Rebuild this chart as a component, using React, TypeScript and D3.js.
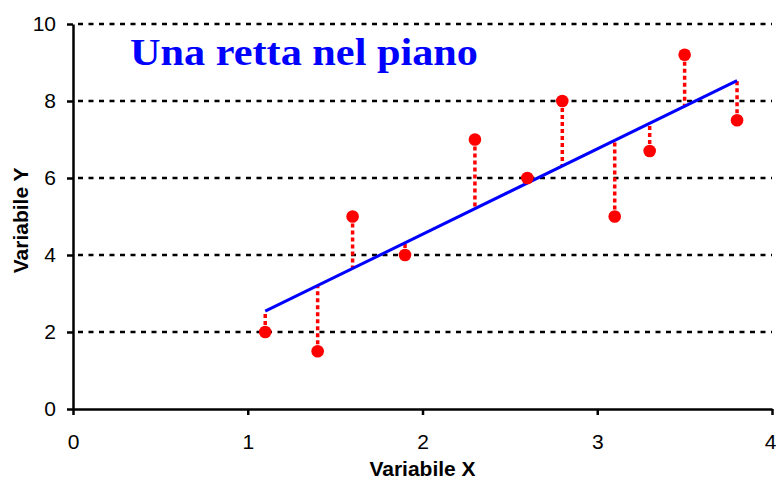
import React, { useEffect, useRef } from "react";
import * as d3 from "d3";

const xValues = [1.1, 1.4, 1.6, 1.9, 2.3, 2.6, 2.8, 3.1, 3.3, 3.5, 3.8];
const yValues = [2, 1.5, 5, 4, 7, 6, 8, 5, 6.7, 9.2, 7.5];
const xTicks = [0, 1, 2, 3, 4];
const yTicks = [0, 2, 4, 6, 8, 10];

const width = 776;
const height = 479;
const margin = { top: 24, right: 4, bottom: 70, left: 73 };

const App: React.FC = () => {
  const svgRef = useRef<SVGSVGElement>(null);

  useEffect(() => {
    if (!svgRef.current) return;
    const svg = d3.select(svgRef.current);
    svg.selectAll("*").remove();

    const x = d3
      .scaleLinear()
      .domain([0, 4])
      .range([margin.left, width - margin.right]);
    const y = d3
      .scaleLinear()
      .domain([0, 10])
      .range([height - margin.bottom, margin.top]);

    // least squares fit
    const mx = d3.mean(xValues) as number;
    const my = d3.mean(yValues) as number;
    const sxy = d3.sum(xValues, (v, i) => (v - mx) * (yValues[i] - my));
    const sxx = d3.sum(xValues, (v) => (v - mx) * (v - mx));
    const slope = sxy / sxx;
    const intercept = my - slope * mx;
    const fit = (v: number) => intercept + slope * v;

    const points = xValues.map((v, i) => ({ x: v, y: yValues[i] }));

    // grid
    svg
      .append("g")
      .selectAll("line")
      .data(yTicks.filter((t) => t > 0))
      .join("line")
      .attr("x1", x(0))
      .attr("x2", x(4))
      .attr("y1", (d) => y(d))
      .attr("y2", (d) => y(d))
      .attr("stroke", "#000")
      .attr("stroke-width", 2.5)
      .attr("stroke-dasharray", "5,5.5")
      .attr("stroke-dashoffset", -5);

    // axes
    const xAxis = svg
      .append("g")
      .attr("transform", `translate(0,${y(0)})`)
      .call(
        d3
          .axisBottom(x)
          .tickValues(xTicks)
          .tickFormat(d3.format("d"))
          .tickSize(6)
          .tickPadding(19)
          .tickSizeOuter(0)
      );
    const yAxis = svg
      .append("g")
      .attr("transform", `translate(${x(0)},0)`)
      .call(
        d3
          .axisLeft(y)
          .tickValues(yTicks)
          .tickFormat(d3.format("d"))
          .tickSize(6)
          .tickPadding(11)
          .tickSizeOuter(0)
      );

    [xAxis, yAxis].forEach((a) => {
      a.select(".domain").attr("stroke", "#000").attr("stroke-width", 2.5);
      a.selectAll(".tick line").attr("stroke", "#000").attr("stroke-width", 2.5);
      a.selectAll(".tick text")
        .attr("fill", "#000")
        .style("font-family", "Liberation Sans, Arial, sans-serif")
        .style("font-size", "21px");
    });
    xAxis.selectAll(".tick:last-of-type text").attr("text-anchor", "end").attr("dx", "4");

    // residuals
    svg
      .append("g")
      .selectAll("line")
      .data(points)
      .join("line")
      .attr("x1", (d) => x(d.x))
      .attr("x2", (d) => x(d.x))
      .attr("y1", (d) => y(d.y))
      .attr("y2", (d) => y(fit(d.x)))
      .attr("stroke", "#ff0000")
      .attr("stroke-width", 3.5)
      .attr("stroke-dasharray", "4,3");

    // fitted line
    const x0 = d3.min(xValues) as number;
    const x1 = d3.max(xValues) as number;
    svg
      .append("line")
      .attr("x1", x(x0))
      .attr("y1", y(fit(x0)))
      .attr("x2", x(x1))
      .attr("y2", y(fit(x1)))
      .attr("stroke", "#0000ff")
      .attr("stroke-width", 3);

    // points
    svg
      .append("g")
      .selectAll("circle")
      .data(points)
      .join("circle")
      .attr("cx", (d) => x(d.x))
      .attr("cy", (d) => y(d.y))
      .attr("r", 6.3)
      .attr("fill", "#ff0000");

    // title
    svg
      .append("text")
      .attr("x", 130)
      .attr("y", 65)
      .attr("fill", "#0000ff")
      .attr("textLength", 348)
      .attr("lengthAdjust", "spacingAndGlyphs")
      .style("font-family", "Liberation Serif, Times New Roman, serif")
      .style("font-weight", "bold")
      .style("font-size", "38px")
      .text("Una retta nel piano");

    // axis titles
    svg
      .append("text")
      .attr("x", x(2))
      .attr("y", 476)
      .attr("text-anchor", "middle")
      .style("font-family", "Liberation Sans, Arial, sans-serif")
      .style("font-weight", "bold")
      .style("font-size", "21px")
      .text("Variabile X");

    svg
      .append("text")
      .attr("transform", `translate(27.5,${y(4.9)}) rotate(-90)`)
      .attr("text-anchor", "middle")
      .style("font-family", "Liberation Sans, Arial, sans-serif")
      .style("font-weight", "bold")
      .style("font-size", "21px")
      .text("Variabile Y");
  }, []);

  return (
    <div style={{ position: "fixed", left: 0, top: 0 }}>
      <svg ref={svgRef} width={width} height={height} style={{ display: "block", background: "#fff" }}></svg>
    </div>
  );
};

export default App;
